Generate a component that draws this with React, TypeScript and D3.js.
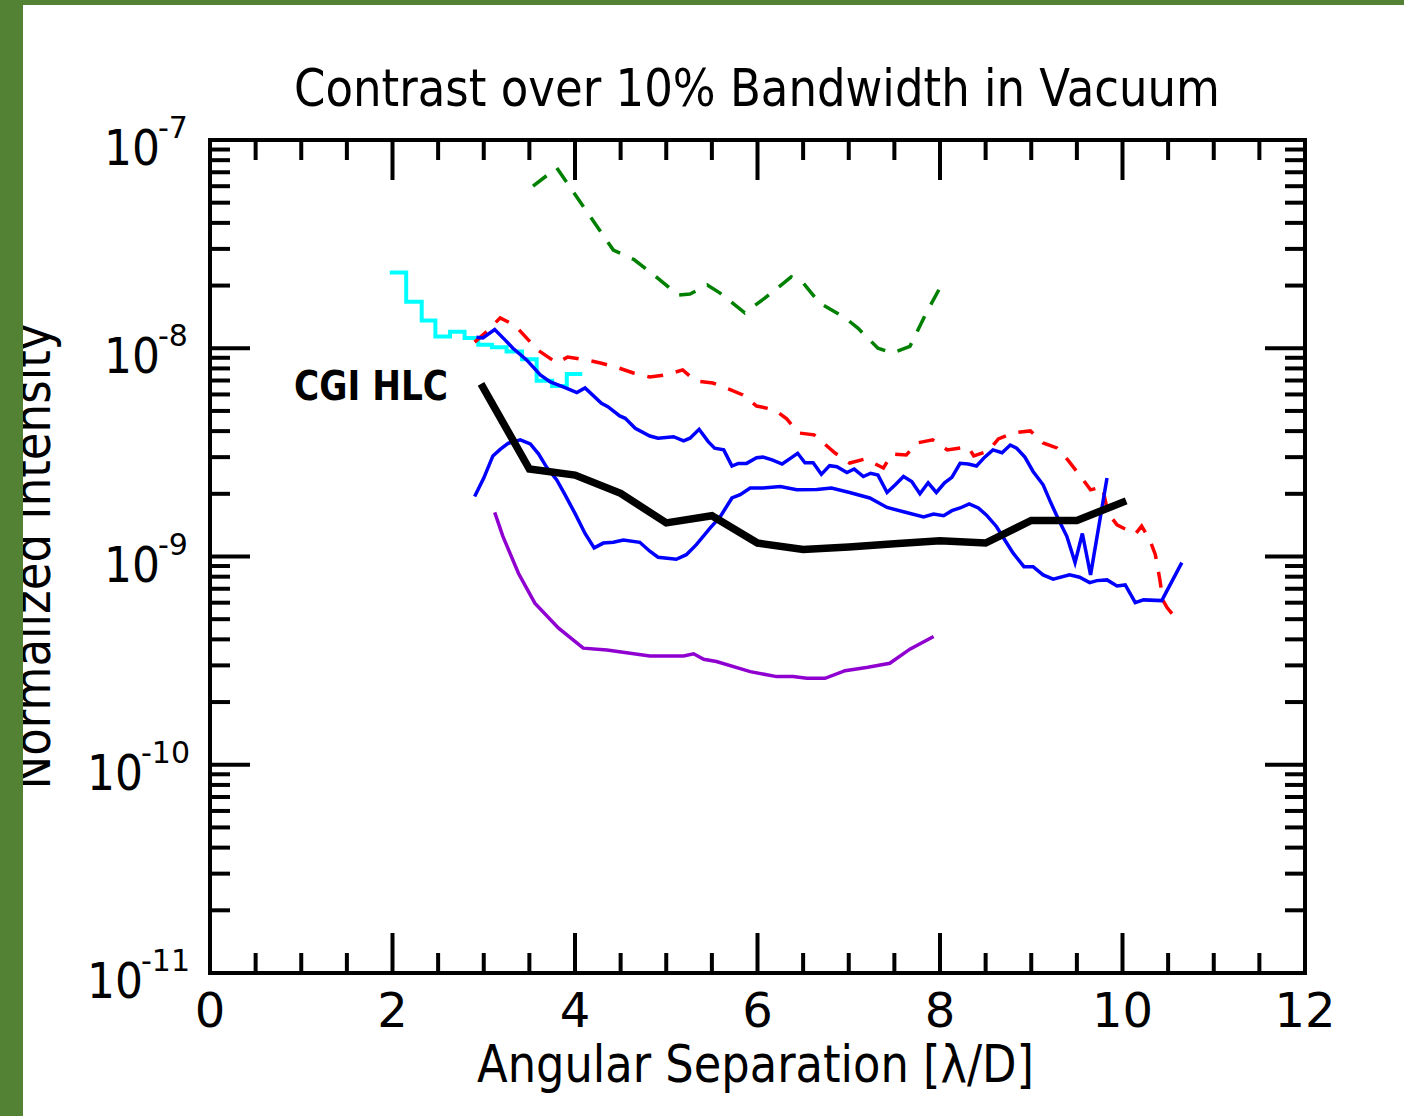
import React from "react";
import * as d3 from "d3";

// ---- Data (angular separation in λ/D, normalized intensity) ----
const cyanX = [1.97, 2.15, 2.32, 2.47, 2.63, 2.79, 2.94, 3.09, 3.25, 3.42, 3.58, 3.75, 3.91, 4.08];
const cyanY = [2.31e-8, 1.67e-8, 1.36e-8, 1.14e-8, 1.2e-8, 1.12e-8, 1.04e-8, 1.01e-8, 9.64e-9, 8.85e-9, 6.99e-9, 6.59e-9, 7.53e-9, 7.53e-9];

const greenX = [3.54, 3.8, 4.42, 4.65, 4.88, 5.13, 5.26, 5.45, 5.59, 5.86, 6.08, 6.37, 6.5, 6.68, 6.96, 7.1, 7.32, 7.48, 7.67, 7.84, 8.01];
const greenY = [6.01e-8, 7.34e-8, 2.96e-8, 2.66e-8, 2.22e-8, 1.8e-8, 1.82e-8, 2.01e-8, 1.84e-8, 1.48e-8, 1.74e-8, 2.2e-8, 2.06e-8, 1.65e-8, 1.4e-8, 1.25e-8, 1.0e-8, 9.48e-9, 1.02e-8, 1.45e-8, 1.99e-8];

const redX = [2.9, 3.04, 3.18, 3.34, 3.59, 3.8, 3.92, 4.12, 4.28, 4.48, 4.64, 4.82, 4.99, 5.18, 5.32, 5.51, 5.68, 5.84, 5.99, 6.19, 6.32, 6.45, 6.62, 6.85, 7.01, 7.18, 7.38, 7.47, 7.63, 7.75, 7.92, 8.08, 8.31, 8.37, 8.53, 8.64, 8.8, 8.99, 9.13, 9.28, 9.4, 9.53, 9.65, 9.78, 9.84, 9.94, 10.14, 10.21, 10.3, 10.36, 10.41, 10.44, 10.49, 10.6];
const redY = [1.07e-8, 1.21e-8, 1.4e-8, 1.29e-8, 9.82e-9, 8.5e-9, 9.08e-9, 8.79e-9, 8.5e-9, 8.04e-9, 7.61e-9, 7.28e-9, 7.44e-9, 7.87e-9, 6.97e-9, 6.81e-9, 6.38e-9, 5.97e-9, 5.28e-9, 5.06e-9, 4.58e-9, 3.92e-9, 3.84e-9, 3.14e-9, 2.81e-9, 2.94e-9, 2.66e-9, 3.11e-9, 3.07e-9, 3.51e-9, 3.63e-9, 3.25e-9, 3.36e-9, 3.04e-9, 3.21e-9, 3.67e-9, 3.92e-9, 4.01e-9, 3.51e-9, 3.32e-9, 2.91e-9, 2.46e-9, 2.09e-9, 2.16e-9, 1.62e-9, 1.42e-9, 1.28e-9, 1.4e-9, 1.2e-9, 1.02e-9, 7.72e-10, 6.19e-10, 5.67e-10, 4.96e-10];

const blueAX = [2.92, 2.99, 3.12, 3.23, 3.32, 3.47, 3.62, 3.73, 3.87, 3.95, 4.02, 4.11, 4.29, 4.36, 4.49, 4.55, 4.66, 4.82, 4.91, 5.08, 5.19, 5.26, 5.36, 5.46, 5.53, 5.63, 5.72, 5.79, 5.88, 5.99, 6.06, 6.16, 6.27, 6.36, 6.44, 6.52, 6.61, 6.7, 6.79, 6.87, 6.98, 7.06, 7.16, 7.24, 7.32, 7.42, 7.51, 7.6, 7.69, 7.78, 7.87, 7.96, 8.05, 8.13, 8.22, 8.31, 8.4, 8.49, 8.58, 8.68, 8.77, 8.84, 8.93, 9.02, 9.13, 9.21, 9.3, 9.39, 9.48, 9.56, 9.65, 9.83];
const blueAY = [1.13e-8, 1.12e-8, 1.23e-8, 1.1e-8, 1.0e-8, 8.79e-9, 7.44e-9, 6.89e-9, 6.52e-9, 6.31e-9, 6.13e-9, 6.45e-9, 5.44e-9, 5.24e-9, 4.73e-9, 4.61e-9, 4.13e-9, 3.79e-9, 3.7e-9, 3.76e-9, 3.59e-9, 3.7e-9, 4.08e-9, 3.56e-9, 3.31e-9, 3.25e-9, 2.72e-9, 2.8e-9, 2.8e-9, 2.98e-9, 3.0e-9, 2.91e-9, 2.78e-9, 2.96e-9, 3.13e-9, 2.82e-9, 2.82e-9, 2.48e-9, 2.73e-9, 2.7e-9, 2.53e-9, 2.63e-9, 2.42e-9, 2.51e-9, 2.46e-9, 2.03e-9, 2.21e-9, 2.42e-9, 2.29e-9, 2.0e-9, 2.26e-9, 2.03e-9, 2.26e-9, 2.4e-9, 2.8e-9, 2.78e-9, 2.72e-9, 3.0e-9, 3.25e-9, 3.15e-9, 3.43e-9, 3.31e-9, 3.0e-9, 2.56e-9, 2.21e-9, 1.83e-9, 1.5e-9, 1.25e-9, 9.35e-10, 1.29e-9, 8.16e-10, 2.38e-9];

const blueBX = [2.9, 3.0, 3.1, 3.18, 3.27, 3.4, 3.51, 3.6, 3.69, 3.8, 3.89, 4.0, 4.11, 4.21, 4.31, 4.42, 4.53, 4.71, 4.82, 4.91, 5.11, 5.22, 5.33, 5.48, 5.59, 5.72, 5.81, 5.92, 6.06, 6.25, 6.43, 6.65, 6.81, 7.01, 7.23, 7.42, 7.6, 7.82, 7.93, 8.04, 8.13, 8.22, 8.32, 8.42, 8.51, 8.62, 8.71, 8.8, 8.92, 9.02, 9.13, 9.24, 9.42, 9.53, 9.64, 9.72, 9.83, 9.94, 10.03, 10.14, 10.23, 10.43, 10.65];
const blueBY = [1.94e-9, 2.38e-9, 3.04e-9, 3.27e-9, 3.5e-9, 3.63e-9, 3.47e-9, 3.11e-9, 2.68e-9, 2.33e-9, 1.98e-9, 1.61e-9, 1.29e-9, 1.1e-9, 1.16e-9, 1.17e-9, 1.2e-9, 1.17e-9, 1.06e-9, 9.92e-10, 9.7e-10, 1.02e-9, 1.14e-9, 1.37e-9, 1.55e-9, 1.91e-9, 1.98e-9, 2.13e-9, 2.13e-9, 2.17e-9, 2.09e-9, 2.1e-9, 2.13e-9, 2.03e-9, 1.91e-9, 1.72e-9, 1.64e-9, 1.55e-9, 1.6e-9, 1.57e-9, 1.66e-9, 1.71e-9, 1.79e-9, 1.71e-9, 1.58e-9, 1.39e-9, 1.2e-9, 1.04e-9, 8.94e-10, 8.94e-10, 8.16e-10, 7.78e-10, 8.16e-10, 7.95e-10, 7.49e-10, 7.66e-10, 7.72e-10, 7.22e-10, 7.3e-10, 6.01e-10, 6.19e-10, 6.14e-10, 9.35e-10];

const purpleX = [3.12, 3.21, 3.38, 3.56, 3.82, 4.09, 4.35, 4.82, 5.19, 5.3, 5.41, 5.55, 5.92, 6.21, 6.39, 6.54, 6.74, 6.96, 7.21, 7.45, 7.67, 7.93];
const purpleY = [1.63e-9, 1.25e-9, 8.31e-10, 5.97e-10, 4.53e-10, 3.63e-10, 3.56e-10, 3.33e-10, 3.33e-10, 3.41e-10, 3.21e-10, 3.13e-10, 2.8e-10, 2.65e-10, 2.65e-10, 2.6e-10, 2.6e-10, 2.83e-10, 2.94e-10, 3.07e-10, 3.59e-10, 4.13e-10];

const hlcX = [2.97, 3.5, 4.0, 4.5, 5.0, 5.5, 6.0, 6.5, 7.0, 7.5, 8.0, 8.5, 9.0, 9.5, 10.04];
const hlcY = [6.74e-9, 2.63e-9, 2.46e-9, 2.01e-9, 1.45e-9, 1.57e-9, 1.16e-9, 1.08e-9, 1.11e-9, 1.15e-9, 1.19e-9, 1.16e-9, 1.49e-9, 1.49e-9, 1.85e-9];

const xMajorTicks = [0, 2, 4, 6, 8, 10, 12];
const yExponents = [-7, -8, -9, -10, -11];

const TITLE = "Contrast over 10% Bandwidth in Vacuum";
const XLABEL = "Angular Separation [\u03bb/D]";
const YLABEL = "Normalized Intensity";
const HLC_LABEL = "CGI HLC";

// ---- Layout ----
const W = 1404;
const H = 1116;
const L = 210, R = 1305, T = 140, B = 973;
const FONT = "'DejaVu Sans', Verdana, sans-serif";

const x = d3.scaleLinear().domain([0, 12]).range([L, R]);
const y = d3.scaleLog().domain([1e-11, 1e-7]).range([B, T]);

const zip = (xs: number[], ys: number[]) => xs.map((v, i) => [v, ys[i]] as [number, number]);

const lineGen = d3.line<[number, number]>().x((d) => x(d[0])).y((d) => y(d[1]));
const stepGen = d3.line<[number, number]>().x((d) => x(d[0])).y((d) => y(d[1])).curve(d3.curveStepAfter);

export default function App() {
  const xMinor = d3.range(0, 12.001, 0.5).filter((v) => Math.abs(v / 2 - Math.round(v / 2)) > 1e-6);
  const yMinor: number[] = [];
  for (let e = -11; e < -7; e++) for (let m = 2; m <= 9; m++) yMinor.push(m * Math.pow(10, e));

  const tickStroke = { stroke: "#000", strokeWidth: 4 } as const;

  return (
    <svg width={W} height={H} style={{ position: "absolute", left: 0, top: 0, background: "#fff" }} xmlns="http://www.w3.org/2000/svg">
      <rect x={0} y={0} width={W} height={H} fill="#fff" />

      {/* y label (partly covered by frame) */}
      <text
        transform={`translate(50,${(T + B) / 2}) rotate(-90)`}
        textAnchor="middle"
        fontFamily={FONT}
        fontSize={51}
        textLength={466}
        lengthAdjust="spacingAndGlyphs"
        fill="#000"
      >
        {YLABEL}
      </text>

      {/* title */}
      <text x={294} y={106} fontFamily={FONT} fontSize={52} textLength={926} lengthAdjust="spacingAndGlyphs" fill="#000">
        {TITLE}
      </text>

      {/* x label */}
      <text x={477} y={1082} fontFamily={FONT} fontSize={51} textLength={557} lengthAdjust="spacingAndGlyphs" fill="#000">
        {XLABEL}
      </text>

      {/* data series */}
      <path d={stepGen(zip(cyanX, cyanY)) || ""} fill="none" stroke="#00ffff" strokeWidth={4} />
      <path d={lineGen(zip(greenX, greenY)) || ""} fill="none" stroke="#008000" strokeWidth={3.5} strokeDasharray="17 13" />
      <path d={lineGen(zip(redX, redY)) || ""} fill="none" stroke="#ff0000" strokeWidth={3.5} strokeDasharray="16 13" />
      <path d={lineGen(zip(blueAX, blueAY)) || ""} fill="none" stroke="#0000ff" strokeWidth={3.5} />
      <path d={lineGen(zip(blueBX, blueBY)) || ""} fill="none" stroke="#0000ff" strokeWidth={3.5} />
      <path d={lineGen(zip(purpleX, purpleY)) || ""} fill="none" stroke="#8f00d0" strokeWidth={3.5} />
      <path d={lineGen(zip(hlcX, hlcY)) || ""} fill="none" stroke="#000" strokeWidth={7.5} />

      <text x={294} y={400} fontFamily={FONT} fontWeight="bold" fontSize={41} textLength={154} lengthAdjust="spacingAndGlyphs" fill="#000">
        {HLC_LABEL}
      </text>

      {/* axes box */}
      <rect x={L} y={T} width={R - L} height={B - T} fill="none" stroke="#000" strokeWidth={4} />

      {/* x ticks */}
      {xMajorTicks.map((v) => (
        <g key={`xm${v}`}>
          <line x1={x(v)} x2={x(v)} y1={B} y2={B - 40} {...tickStroke} />
          <line x1={x(v)} x2={x(v)} y1={T} y2={T + 40} {...tickStroke} />
          <text x={x(v)} y={1027} textAnchor="middle" fontFamily={FONT} fontSize={48} fill="#000">
            {v}
          </text>
        </g>
      ))}
      {xMinor.map((v) => (
        <g key={`xn${v}`}>
          <line x1={x(v)} x2={x(v)} y1={B} y2={B - 20} {...tickStroke} />
          <line x1={x(v)} x2={x(v)} y1={T} y2={T + 20} {...tickStroke} />
        </g>
      ))}

      {/* y ticks */}
      {yExponents.map((e) => {
        const yy = y(Math.pow(10, e));
        const digits = String(-e).length;
        const supStart = 175 - 17 * digits;
        return (
          <g key={`ym${e}`}>
            <line x1={L} x2={L + 40} y1={yy} y2={yy} {...tickStroke} />
            <line x1={R} x2={R - 40} y1={yy} y2={yy} {...tickStroke} />
            <text
              transform={`translate(${supStart + 2},${yy + 25}) scale(0.88,1)`}
              textAnchor="end"
              fontFamily={FONT}
              fontSize={50}
              fill="#000"
            >
              10
            </text>
            <text x={supStart} y={yy - 2} fontFamily={FONT} fontSize={30} fill="#000">
              {`-${-e}`}
            </text>
          </g>
        );
      })}
      {yMinor.map((v, i) => (
        <g key={`yn${i}`}>
          <line x1={L} x2={L + 20} y1={y(v)} y2={y(v)} {...tickStroke} />
          <line x1={R} x2={R - 20} y1={y(v)} y2={y(v)} {...tickStroke} />
        </g>
      ))}

      {/* green frame */}
      <rect x={0} y={0} width={W} height={5} fill="#548235" />
      <rect x={0} y={0} width={23} height={H} fill="#548235" />
    </svg>
  );
}
